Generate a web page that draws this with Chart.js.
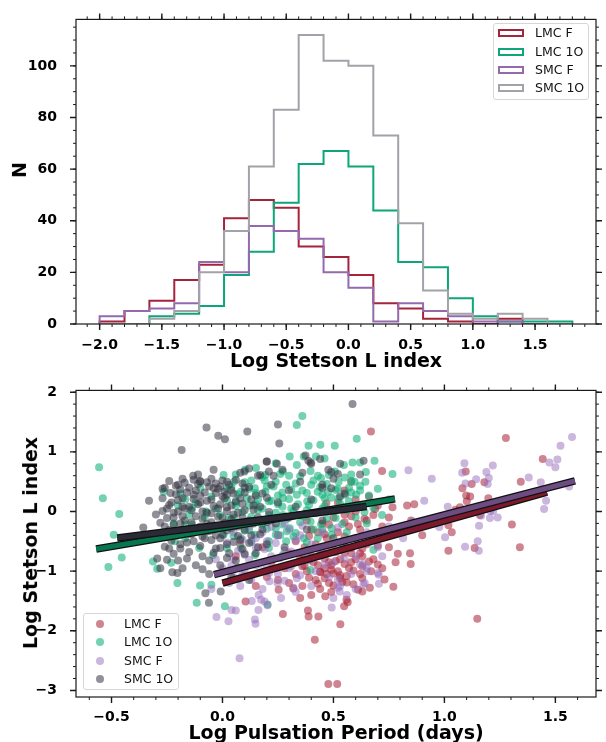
<!DOCTYPE html>
<html>
<head>
<meta charset="utf-8">
<script src="https://cdn.jsdelivr.net/npm/chart.js@4.4.1/dist/chart.umd.min.js"></script>
<style>
  body { margin: 0; background: #fff; }
  #page { position: relative; width: 606px; height: 742px; overflow: hidden; font-family: 'DejaVu Sans', sans-serif; }
  canvas { position: absolute; left: 0; }
  .title { position: absolute; font-weight: bold; font-size: 19px; white-space: nowrap; line-height: 22px; color: #000; }
  .legend { position: absolute; width: 96px; height: 77px; box-sizing: border-box; border: 1px solid #d6d6d6; border-radius: 3px; background: rgba(255,255,255,0.8); }
  .ltext { position: absolute; font-size: 12.5px; line-height: 14px; white-space: nowrap; color: #111; }
  .patch { position: absolute; width: 26px; height: 8px; box-sizing: border-box; border: 2px solid; }
  .dot { position: absolute; width: 8px; height: 8px; border-radius: 50%; }
</style>
</head>
<body>
<div id="page">
  <canvas id="hist" width="606" height="371" style="top:0"></canvas>
  <canvas id="scat" width="606" height="371" style="top:371px"></canvas>
</div>
<script>
// ---- data ----
const seriesNames = ['LMC F', 'LMC 1O', 'SMC F', 'SMC 1O'];

// histogram (top panel), bin edges and counts
const histEdges = [-2.0, -1.8, -1.6, -1.4, -1.2, -1.0, -0.8, -0.6, -0.4, -0.2, 0.0, 0.2, 0.4, 0.6, 0.8, 1.0, 1.2, 1.4, 1.6, 1.8];
const lmcFCounts  = [1, 5, 9, 17, 23, 41, 48, 45, 30, 26, 19, 8, 6, 2, 1, 0, 2, 0, 0];
const lmc1OCounts = [0, 0, 3, 4, 7, 19, 28, 47, 62, 67, 61, 44, 24, 22, 10, 3, 1, 1, 1];
const smcFCounts  = [3, 5, 6, 8, 24, 20, 38, 36, 33, 20, 14, 1, 8, 5, 3, 1, 1, 0, 0];
const smc1OCounts = [0, 0, 2, 5, 20, 36, 61, 83, 112, 102, 100, 73, 39, 13, 4, 2, 4, 2, 0];

const histXTicks = [-2.0, -1.5, -1.0, -0.5, 0.0, 0.5, 1.0, 1.5];
const histYTicks = [0, 20, 40, 60, 80, 100];

// scatter (bottom panel): [log period, log L]
const lmcFPoints = [
  [0.669,1.34],[0.719,0.68],[1.277,1.23],[1.443,0.88],[1.096,0.67],[1.081,0.39],[1.123,0.46],[1.18,0.49],[1.344,0.50],
  [1.198,0.22],[1.116,0.25],[1.101,0.17],[1.098,0.27],[1.304,-0.22],[1.340,-0.60],[1.018,-0.66],[1.033,-0.35],[1.018,-0.23],
  [1.136,-0.61],[1.148,-1.80],[1.07,0.07],[1.05,0.03],[1.16,-0.06],[0.864,0.12],[0.832,0.10],[0.845,-0.70],[0.848,-0.88],
  [0.790,-0.71],[0.770,-1.26],[0.730,-1.14],[0.766,0.07],[0.688,0.04],[0.664,-1.28],[0.630,-1.34],[0.611,-1.31],[0.580,0.50],
  [0.468,0.14],[0.531,-1.89],[0.416,-2.15],[0.477,-2.89],[0.517,-2.89],[0.272,-1.72],[0.385,-1.66],[0.432,-1.76],[0.388,-1.76],
  [0.463,-1.42],[0.559,-1.48],[0.564,-1.52],[0.548,-1.59],[0.319,-1.29],[0.253,-1.31],[0.104,-1.51],[0.060,-0.75],
  [0.40,-0.30],[0.45,-0.20],[0.50,-0.10],[0.55,-0.05],[0.60,0.00],[0.65,-0.15],[0.62,-0.30],[0.57,-0.25],[0.52,-0.35],
  [0.47,-0.45],[0.42,-0.55],[0.37,-0.60],[0.33,-0.50],[0.30,-0.70],[0.35,-0.80],[0.40,-0.75],[0.45,-0.65],[0.50,-0.55],
  [0.55,-0.50],[0.60,-0.45],[0.65,-0.55],[0.70,-0.40],[0.72,-0.25],[0.68,-0.80],[0.63,-0.75],[0.58,-0.70],[0.53,-0.80],
  [0.48,-0.85],[0.43,-0.90],[0.38,-1.00],[0.33,-1.05],[0.28,-0.95],[0.25,-1.15],[0.30,-1.20],[0.36,-1.25],[0.42,-1.15],
  [0.47,-1.05],[0.52,-1.00],[0.57,-0.95],[0.62,-1.05],[0.67,-1.00],[0.72,-0.95],[0.75,-0.60],[0.78,-0.85],[0.48,-1.20],
  [0.54,-1.18],[0.59,-1.22],[0.44,-1.30],[0.49,-1.35],[0.40,-1.40],[0.35,-1.45],[0.20,-1.10],[0.15,-1.25],[0.22,-0.85],
  [0.18,-0.60],[0.60,0.20],[0.55,0.35],[0.66,0.25],[0.52,0.15],[0.70,0.10],[0.75,-0.10],[0.80,-0.30],[0.85,-0.15],
  [0.90,-0.40],[0.95,-0.20],[0.43,-0.35],[0.38,-0.15],[0.46,-0.95],[0.51,-0.68],[0.56,-1.08],[0.25,-0.40],[0.44,-1.02],
  [0.49,-0.98],[0.53,-1.12],[0.41,-0.85],[0.36,-0.92],[0.58,-0.85],[0.63,-0.62],[0.12,-0.20],[0.08,-0.55],
  [0.58,-0.08],[0.64,-0.12],[0.68,-0.06],[0.48,-0.22],[0.55,-0.18],[0.61,-0.21],[0.39,-0.41],[0.46,-0.38],[0.55,-0.42],
  [0.66,-0.39],[0.41,-0.62],[0.48,-0.58],[0.58,-0.61],[0.70,-0.57],[0.36,-0.71],[0.44,-0.72],[0.55,-0.69],[0.62,-0.70],
  [0.39,-0.81],[0.46,-0.79],[0.51,-0.83],[0.60,-0.80],[0.66,-0.84],[0.37,-0.91],[0.49,-0.90],[0.55,-0.88],[0.63,-0.92],
  [0.70,-0.89],[0.44,-1.01],[0.50,-1.04],[0.59,-0.99],[0.39,-1.11],[0.46,-1.12],[0.53,-1.07],[0.63,-1.12],[0.43,-1.21],
  [0.50,-1.24],[0.56,-1.19]
];
const lmc1OPoints = [
  [-0.556,0.74],[-0.539,0.22],[-0.465,-0.04],[-0.514,-0.93],[-0.454,-0.77],[-0.49,-0.39],[-0.265,0.33],[-0.313,-0.84],
  [-0.294,-0.96],[-0.231,-0.86],[-0.203,-1.20],[-0.116,-1.53],[-0.101,-1.24],[-0.050,-1.23],[0.011,-1.59],[0.203,-1.56],
  [-0.168,0.20],[-0.168,-0.22],[0.360,1.60],[0.335,1.45],[0.388,1.10],[0.441,1.12],[0.506,1.10],[0.605,1.22],[0.303,0.92],
  [0.366,0.92],[0.421,0.92],[0.460,0.89],[0.547,0.78],[0.586,0.82],[0.620,0.82],[0.685,0.85],[0.646,0.66],[0.766,0.63],
  [0.644,0.50],[0.595,0.50],[0.102,0.70],[0.151,0.73],[0.193,0.61],[0.240,0.81],[0.272,0.67],[0.335,0.78],[0.397,0.68],
  [0.444,0.56],[0.507,0.67],[0.523,0.50],[0.570,0.40],[0.476,0.33],[0.240,0.50],[0.287,0.45],[0.052,0.50],[0.005,0.61],
  [0.020,0.39],[0.083,0.33],[0.146,0.39],[0.193,0.33],[0.209,0.17],[0.272,0.22],[0.335,0.28],[0.382,0.17],[0.429,0.33],
  [0.460,0.22],[0.523,0.22],[0.554,0.28],[0.602,0.28],[0.633,0.11],[0.680,0.06],[0.719,-0.06],[0.209,-0.06],[0.272,-0.06],
  [0.350,-0.06],[0.397,-0.17],[0.444,-0.22],[0.492,-0.28],[0.303,-0.28],[0.240,-0.28],[0.177,-0.22],[0.115,-0.17],
  [0.052,-0.11],[-0.011,-0.06],[-0.074,0.00],[-0.137,0.06],[-0.137,-0.22],[-0.074,-0.33],[0.005,-0.39],[0.083,-0.45],
  [0.146,-0.39],[0.209,-0.50],[0.287,-0.50],[0.366,-0.45],[0.429,-0.45],[0.492,-0.39],[0.539,-0.56],[0.680,-0.64],
  [0.397,-0.98],[0.146,-0.73],[-0.042,-0.73],[-0.168,-0.45],[-0.215,-0.50],[-0.105,-0.61],[0.020,-0.61],[0.083,-0.61],
  [0.209,-0.61],[0.272,-0.73],[0.12,0.10],[0.18,0.05],[0.25,0.12],[0.31,0.05],[0.36,0.35],[0.40,0.45],[0.45,0.05],
  [0.50,0.00],[0.55,0.08],[0.60,-0.10],[0.65,-0.20],[0.56,-0.35],[0.33,-0.36],[0.27,0.32],[0.16,0.20],[0.06,0.15],
  [0.10,-0.30],[-0.05,0.25],[-0.10,0.40],[0.03,-0.20],[0.22,-0.15],[0.38,0.02],[0.47,-0.12],[0.52,0.38],[0.43,0.60],
  [0.30,0.60],[0.58,0.62],[0.70,0.38],[0.75,0.20],[0.62,0.35],[-0.20,0.10],[-0.12,0.15],[-0.08,-0.10],[-0.15,-0.05],
  [-0.03,0.05],[-0.22,-0.20],[-0.19,0.30],[0.13,0.52],[0.20,0.42],[0.34,0.12],[0.41,-0.30],[0.26,-0.40],
  [0.06,0.62],[0.18,0.58],[0.26,0.63],[0.35,0.59],[0.48,0.61],[0.55,0.57],[0.10,0.49],[0.19,0.52],[0.33,0.47],[0.41,0.52],
  [0.47,0.46],[0.58,0.51],[0.04,0.41],[0.12,0.38],[0.23,0.42],[0.31,0.37],[0.44,0.41],[0.51,0.36],[0.62,0.43],[0.07,0.29],
  [0.15,0.31],[0.25,0.27],[0.38,0.31],[0.45,0.28],[0.58,0.32],[0.66,0.27],[0.02,0.19],[0.11,0.22],[0.22,0.18],[0.30,0.21],
  [0.41,0.19],[0.49,0.23],[0.57,0.17],[0.06,0.09],[0.15,0.12],[0.27,0.08],[0.39,0.11],[0.46,0.09],[0.53,0.13],[0.61,0.07],
  [0.09,-0.01],[0.16,0.02],[0.24,-0.02],[0.32,0.01],[0.42,-0.03],[0.56,0.02],[0.64,-0.01],[0.03,-0.11],[0.13,-0.09],
  [0.29,-0.12],[0.37,-0.09],[0.51,-0.11],[0.08,-0.21],[0.18,-0.19],[0.27,-0.22],[0.35,-0.18],[0.54,-0.21],[0.12,-0.31],
  [0.20,-0.29],[0.29,-0.33],[0.45,-0.30],[0.05,-0.41],[0.24,-0.39],[0.32,-0.42],[0.13,-0.51],[0.38,-0.52]
];
const smcFPoints = [
  [1.575,1.25],[1.523,1.10],[1.509,0.87],[1.473,0.82],[1.50,0.74],[1.434,0.49],[1.458,0.18],[1.449,0.04],[1.562,0.42],
  [1.38,0.57],[1.218,0.77],[1.189,0.66],[1.20,0.56],[1.195,0.46],[1.143,0.54],[1.09,0.81],[1.08,0.65],[1.095,0.47],
  [0.943,0.55],[0.909,0.18],[1.015,0.08],[1.207,0.01],[1.22,0.01],[1.165,-0.07],[1.205,-0.11],[1.24,-0.10],[1.156,-0.24],
  [0.977,-0.26],[1.003,-0.43],[1.15,-0.50],[1.155,-0.66],[1.093,-0.59],[0.838,0.69],[0.814,-0.45],[0.853,-0.17],
  [0.704,-1.06],[0.705,-1.21],[0.641,-1.20],[0.633,-0.88],[0.528,-1.34],[0.492,-1.61],[0.077,-2.46],[-0.027,-1.77],
  [0.027,-1.84],[0.041,-1.65],[0.060,-1.66],[0.146,-1.81],[0.149,-1.88],[0.132,-1.50],[0.162,-1.65],[0.174,-1.48],
  [0.163,-1.40],[0.203,-1.57],[0.264,-1.45],[0.212,-1.17],[0.248,-1.20],[0.335,-1.12],[0.19,-1.51],[0.32,-1.28],
  [0.62,-0.89],[0.65,-1.00],[0.70,-1.03],[0.635,-1.22],[0.52,-1.28],
  [0.05,-0.80],[0.10,-0.70],[0.15,-0.60],[0.20,-0.50],[0.25,-0.40],[0.30,-0.30],[0.35,-0.40],[0.40,-0.55],[0.45,-0.70],
  [0.50,-0.85],[0.55,-0.60],[0.60,-0.75],[0.35,-0.85],[0.30,-0.95],[0.25,-1.05],[0.20,-0.95],[0.15,-0.90],[0.10,-1.00],
  [0.05,-1.10],[0.00,-0.95],[-0.03,-0.80],[0.08,-1.25],[0.13,-1.15],[0.18,-1.30],[0.22,-0.75],[0.28,-0.65],[0.38,-0.70],
  [0.42,-1.00],[0.48,-1.10],[0.53,-1.25],[0.58,-1.05],[0.65,-0.95],[0.70,-0.60],[0.72,-0.75],[0.45,-0.35],[0.18,-0.35],
  [0.12,-0.25],[0.28,-0.20],[0.65,-0.35],[0.75,-0.25],[0.60,-1.30],[0.40,-1.25],[0.33,-1.35],[0.03,-1.20],[-0.05,-1.30],
  [0.09,-0.47],[0.05,-0.35],[0.15,-0.45],[0.50,-1.45],[0.56,-1.40],
  [0.02,-0.52],[0.13,-0.49],[0.24,-0.53],[0.33,-0.48],[0.07,-0.66],[0.19,-0.63],[0.31,-0.67],[0.43,-0.62],[0.12,-0.81],
  [0.26,-0.78],[0.40,-0.82],[0.55,-0.79],[0.04,-0.91],[0.17,-0.88],[0.31,-0.92],[0.46,-0.89],[0.09,-1.06],[0.21,-1.03],
  [0.35,-1.07],[0.28,-1.16],[0.52,-1.14],[0.22,-0.26],[0.36,-0.24],[0.52,-0.27]
];
const smc1OPoints = [
  [-0.072,1.41],[-0.019,1.27],[0.011,1.21],[0.112,1.34],[0.250,1.46],[0.256,1.14],[-0.184,1.03],[0.586,1.80],[0.199,0.84],
  [-0.132,0.60],[-0.101,0.51],[-0.234,0.31],[-0.331,0.18],[-0.357,-0.27],[-0.294,-0.79],[-0.226,-1.02],[-0.203,-1.03],
  [-0.077,-1.37],[-0.061,-1.53],[-0.008,-1.34],[0.636,0.85],[0.397,0.82],[0.374,0.94],[0.099,0.67],[0.477,0.70],[0.209,0.67],
  [0.20,0.84],[0.23,0.60],[0.245,0.80],[0.17,0.61],[0.387,0.85],[0.40,0.80],[0.49,0.66],[0.52,0.63],[0.53,0.25],[0.49,0.39],
  [0.45,0.45],
  [-0.20,0.45],[-0.15,0.40],[-0.10,0.50],[-0.05,0.55],[0.00,0.52],[0.03,0.45],[-0.02,0.38],[-0.08,0.32],[-0.13,0.28],
  [-0.18,0.22],[-0.23,0.15],[-0.25,0.05],[-0.20,0.00],[-0.15,0.08],[-0.10,0.15],[-0.05,0.20],[0.00,0.25],[0.05,0.30],
  [0.08,0.22],[0.04,0.10],[-0.02,0.05],[-0.07,-0.02],[-0.12,-0.08],[-0.17,-0.15],[-0.22,-0.10],[-0.26,-0.25],[-0.21,-0.35],
  [-0.16,-0.30],[-0.10,-0.25],[-0.05,-0.18],[0.00,-0.10],[0.05,-0.05],[0.10,0.02],[0.14,0.10],[0.12,-0.15],[0.07,-0.25],
  [0.02,-0.32],[-0.03,-0.40],[-0.08,-0.45],[-0.13,-0.50],[-0.19,-0.55],[-0.24,-0.62],[-0.15,-0.68],[-0.09,-0.75],
  [-0.03,-0.62],[0.02,-0.55],[0.08,-0.48],[0.13,-0.40],[0.18,-0.30],[0.20,-0.55],[0.15,-0.70],[0.06,-0.82],[-0.01,-0.90],
  [-0.12,-0.90],[-0.20,-0.82],[-0.06,-1.05],[0.04,-1.10],[0.12,-1.15],[0.18,0.30],[0.22,0.45],[0.25,0.15],[0.30,0.35],
  [0.35,0.50],[0.40,0.20],[0.45,0.40],[0.50,0.55],[0.55,0.30],[0.30,-0.10],[0.38,-0.30],[0.28,-0.60],[0.45,-0.15],
  [0.60,0.10],[0.16,0.60],[0.08,0.65],[-0.04,0.70],[-0.11,0.62],[-0.27,0.38],[-0.30,-0.05],[-0.32,-0.45],[-0.28,-0.95],
  [0.27,0.70],[0.10,0.40],[-0.01,0.12],[-0.09,0.00],[-0.14,-0.38],[0.03,-0.70],[-0.18,0.55],[0.24,-0.20],[0.33,0.08],
  [0.12,0.72],[0.36,0.65],[0.53,0.80],[0.62,0.62],[0.44,0.88],[0.38,-0.65],[0.50,-0.45],[-0.06,0.42],[0.01,0.33],
  [-0.12,0.35],[-0.17,0.05],[-0.04,-0.30],[-0.19,-0.20],[0.09,-0.10],[-0.01,-0.45],
  [-0.24,0.51],[-0.17,0.48],[-0.13,0.53],[-0.07,0.49],[-0.03,0.47],[0.02,0.50],[0.06,0.53],[-0.21,0.43],[-0.11,0.46],
  [-0.01,0.42],[0.09,0.47],[-0.26,0.40],[-0.19,0.37],[-0.04,0.39],[0.04,0.36],[0.12,0.41],[-0.21,0.29],[-0.16,0.32],
  [-0.10,0.27],[-0.03,0.31],[0.02,0.28],[0.10,0.32],[0.15,0.27],[-0.27,0.22],[-0.20,0.19],[-0.13,0.21],[-0.07,0.18],
  [0.01,0.22],[0.06,0.17],[0.13,0.20],[0.20,0.23],[-0.24,0.11],[-0.18,0.08],[-0.11,0.12],[-0.04,0.09],[0.02,0.07],
  [0.09,0.13],[0.17,0.08],[-0.27,0.01],[-0.22,-0.02],[-0.14,0.02],[-0.05,-0.03],[0.02,0.01],[0.07,-0.02],[0.14,0.03],
  [0.21,-0.01],[-0.25,-0.11],[-0.18,-0.08],[-0.09,-0.12],[-0.02,-0.09],[0.04,-0.13],[0.16,-0.10],[-0.28,-0.19],
  [-0.22,-0.22],[-0.14,-0.18],[-0.07,-0.21],[0.01,-0.19],[0.06,-0.23],[0.14,-0.20],[0.20,-0.18],[-0.24,-0.31],[-0.11,-0.29],
  [-0.06,-0.33],[0.04,-0.28],[0.10,-0.32],[-0.27,-0.41],[-0.20,-0.38],[-0.09,-0.42],[0.00,-0.39],[0.07,-0.41],[0.17,-0.38],
  [-0.23,-0.49],[-0.16,-0.52],[-0.05,-0.48],[0.05,-0.51],[0.12,-0.53],[-0.26,-0.59],[-0.19,-0.62],[-0.10,-0.58],
  [-0.01,-0.61],[0.09,-0.63],[0.16,-0.60],[-0.22,-0.71],[-0.04,-0.69],[0.10,-0.72],[-0.25,-0.81],[-0.16,-0.79],
  [-0.06,-0.82],[0.02,-0.78],[-0.18,-0.95],[-0.09,-0.97],[0.07,-0.94]
];

// fitted relations (end points)
const lmcFFit  = [[0.000, -1.20], [1.462, 0.324]];
const lmc1OFit = [[-0.569, -0.63], [0.777, 0.212]];
const smcFFit  = [[-0.038, -1.06], [1.588, 0.513]];
const smc1OFit = [[-0.474, -0.446], [0.649, 0.084]];

const scatXTicks = [-0.5, 0.0, 0.5, 1.0, 1.5];
const scatYTicks = [-3, -2, -1, 0, 1, 2];

// ---- styling ----
const histColors = ['#a3243b', '#0ca678', '#9469ae', '#a2a2a8'];
const dotColors = ['rgba(165,32,55,0.55)', 'rgba(15,175,120,0.58)', 'rgba(152,110,190,0.5)', 'rgba(52,52,68,0.55)'];
const fitColors = ['#7b1a2c', '#08774f', '#6d4c82', '#2b2b37'];

Chart.defaults.font.family = "'DejaVu Sans', sans-serif";
const tickFont = { size: 14, weight: 'bold' };
const minus = v => (v < 0 ? '\u2212' : '') + Math.abs(v);
const fmt1 = v => (v < 0 ? '\u2212' : '') + Math.abs(v).toFixed(1);

function minorTicks(lo, hi, step) {
  const out = [];
  for (let v = Math.ceil(lo / step) * step; v <= hi + 1e-9; v += step) out.push(+v.toFixed(6));
  return out;
}

// frame + outward ticks on all four sides, like the matplotlib axes
const frameTicks = {
  id: 'frameTicks',
  afterDraw(chart, args, o) {
    const { ctx, chartArea: a, scales: { x, y } } = chart;
    ctx.save();
    ctx.strokeStyle = '#1a1a1a';
    const drawX = (vals, len, w) => {
      ctx.lineWidth = w;
      ctx.beginPath();
      vals.forEach(v => {
        const p = x.getPixelForValue(v);
        if (p < a.left - 0.5 || p > a.right + 0.5) return;
        ctx.moveTo(p, a.bottom); ctx.lineTo(p, a.bottom + len);
        ctx.moveTo(p, a.top); ctx.lineTo(p, a.top - len);
      });
      ctx.stroke();
    };
    const drawY = (vals, len, w) => {
      ctx.lineWidth = w;
      ctx.beginPath();
      vals.forEach(v => {
        const p = y.getPixelForValue(v);
        if (p < a.top - 0.5 || p > a.bottom + 0.5) return;
        ctx.moveTo(a.left, p); ctx.lineTo(a.left - len, p);
        ctx.moveTo(a.right, p); ctx.lineTo(a.right + len, p);
      });
      ctx.stroke();
    };
    drawX(o.xMinor, 3, 1); drawY(o.yMinor, 3, 1);
    drawX(o.xMajor, 6, 1.4); drawY(o.yMajor, 6, 1.4);
    ctx.lineWidth = 1.2;
    ctx.strokeRect(a.left, a.top, a.right - a.left, a.bottom - a.top);
    ctx.restore();
  }
};

function stepOutline(edges, counts) {
  const pts = [{ x: edges[0], y: 0 }];
  counts.forEach((c, i) => { pts.push({ x: edges[i], y: c }, { x: edges[i + 1], y: c }); });
  pts.push({ x: edges[edges.length - 1], y: 0 });
  return pts;
}

function axisOpts(min, max, ticks, fmt, size, pad, isX) {
  return {
    type: 'linear', min: min, max: max,
    grid: { display: false }, border: { display: false },
    afterBuildTicks: s => { s.ticks = ticks.map(v => ({ value: v })); },
    afterFit: s => { if (isX) s.height = size; else s.width = size; },
    ticks: { font: tickFont, color: '#000', padding: pad, callback: fmt, autoSkip: false, maxRotation: 0 }
  };
}

// ---- top: histogram ----
const histCounts = [lmcFCounts, lmc1OCounts, smcFCounts, smc1OCounts];
new Chart(document.getElementById('hist'), {
  type: 'scatter',
  data: {
    datasets: histCounts.map((c, i) => ({
      label: seriesNames[i],
      data: stepOutline(histEdges, c),
      showLine: true, pointRadius: 0, borderWidth: 2, borderColor: histColors[i],
      fill: false, tension: 0, order: 10 - i
    }))
  },
  options: {
    responsive: false, animation: false, devicePixelRatio: 1,
    layout: { padding: { left: 0, right: 10, top: 16, bottom: 0 } },
    plugins: {
      legend: { display: false }, tooltip: { enabled: false },
      frameTicks: { xMajor: histXTicks, xMinor: minorTicks(-2.19, 1.99, 0.1), yMajor: histYTicks, yMinor: minorTicks(0, 118, 5) }
    },
    scales: {
      x: axisOpts(-2.19, 1.99, histXTicks, fmt1, 47, 5, true),
      y: axisOpts(0, 118, histYTicks, v => String(v), 76, 11, false)
    }
  },
  plugins: [frameTicks]
});

// ---- bottom: scatter with fits ----
const pointSets = [lmcFPoints, lmc1OPoints, smcFPoints, smc1OPoints];
const fitSets = [lmcFFit, lmc1OFit, smcFFit, smc1OFit];
const scatDatasets = [];
pointSets.forEach((pts, i) => {
  scatDatasets.push({
    label: seriesNames[i],
    data: pts.map(p => ({ x: p[0], y: p[1] })),
    pointRadius: 4, pointBorderWidth: 0, backgroundColor: dotColors[i], order: 30 - i
  });
});
fitSets.forEach((f, i) => {
  const d = f.map(p => ({ x: p[0], y: p[1] }));
  scatDatasets.push({ data: d, showLine: true, pointRadius: 0, borderColor: '#111', borderWidth: 7.5, borderCapStyle: 'butt', order: 8 - 2 * i });
  scatDatasets.push({ data: d, showLine: true, pointRadius: 0, borderColor: fitColors[i], borderWidth: 5, borderCapStyle: 'butt', order: 7 - 2 * i });
});
new Chart(document.getElementById('scat'), {
  type: 'scatter',
  data: { datasets: scatDatasets },
  options: {
    responsive: false, animation: false, devicePixelRatio: 1,
    layout: { padding: { left: 0, right: 10, top: 18, bottom: 0 } },
    plugins: {
      legend: { display: false }, tooltip: { enabled: false },
      frameTicks: { xMajor: scatXTicks, xMinor: minorTicks(-0.66, 1.683, 0.1), yMajor: scatYTicks, yMinor: minorTicks(-3.11, 2.03, 0.2) }
    },
    scales: {
      x: axisOpts(-0.66, 1.683, scatXTicks, fmt1, 45, 4, true),
      y: axisOpts(-3.11, 2.03, scatYTicks, minus, 76, 11, false)
    }
  },
  plugins: [frameTicks]
});

// ---- text: axis titles and legends ----
const page = document.getElementById('page');
function addTitle(text, cx, cy, rotate) {
  const el = document.createElement('div');
  el.className = 'title';
  el.textContent = text;
  page.appendChild(el);
  const w = el.offsetWidth, h = el.offsetHeight;
  el.style.left = (cx - w / 2) + 'px';
  el.style.top = (cy - h / 2) + 'px';
  if (rotate) el.style.transform = 'rotate(-90deg)';
}
addTitle('N', 19, 170, true);
addTitle('Log Stetson L index', 336, 360, false);
addTitle('Log Stetson L index', 30, 543, true);
addTitle('Log Pulsation Period (days)', 336, 732, false);

function addLegend(left, top, rowYs, kind) {
  const box = document.createElement('div');
  box.className = 'legend';
  box.style.left = left + 'px';
  box.style.top = top + 'px';
  page.appendChild(box);
  seriesNames.forEach((name, i) => {
    const cy = rowYs[i];
    const m = document.createElement('div');
    if (kind === 'patch') {
      m.className = 'patch';
      m.style.borderColor = histColors[i];
      m.style.left = (left + 5) + 'px';
      m.style.top = (cy - 4) + 'px';
    } else {
      m.className = 'dot';
      m.style.background = dotColors[i];
      m.style.left = (left + 13) + 'px';
      m.style.top = (cy - 4) + 'px';
    }
    page.appendChild(m);
    const t = document.createElement('div');
    t.className = 'ltext';
    t.textContent = name;
    t.style.left = (left + (kind === 'patch' ? 42 : 41)) + 'px';
    t.style.top = (cy - 7) + 'px';
    page.appendChild(t);
  });
}
addLegend(493, 23, [33.3, 51.7, 70, 88.3], 'patch');
addLegend(83, 613, [624, 642.3, 661, 679], 'dot');
</script>
</body>
</html>
